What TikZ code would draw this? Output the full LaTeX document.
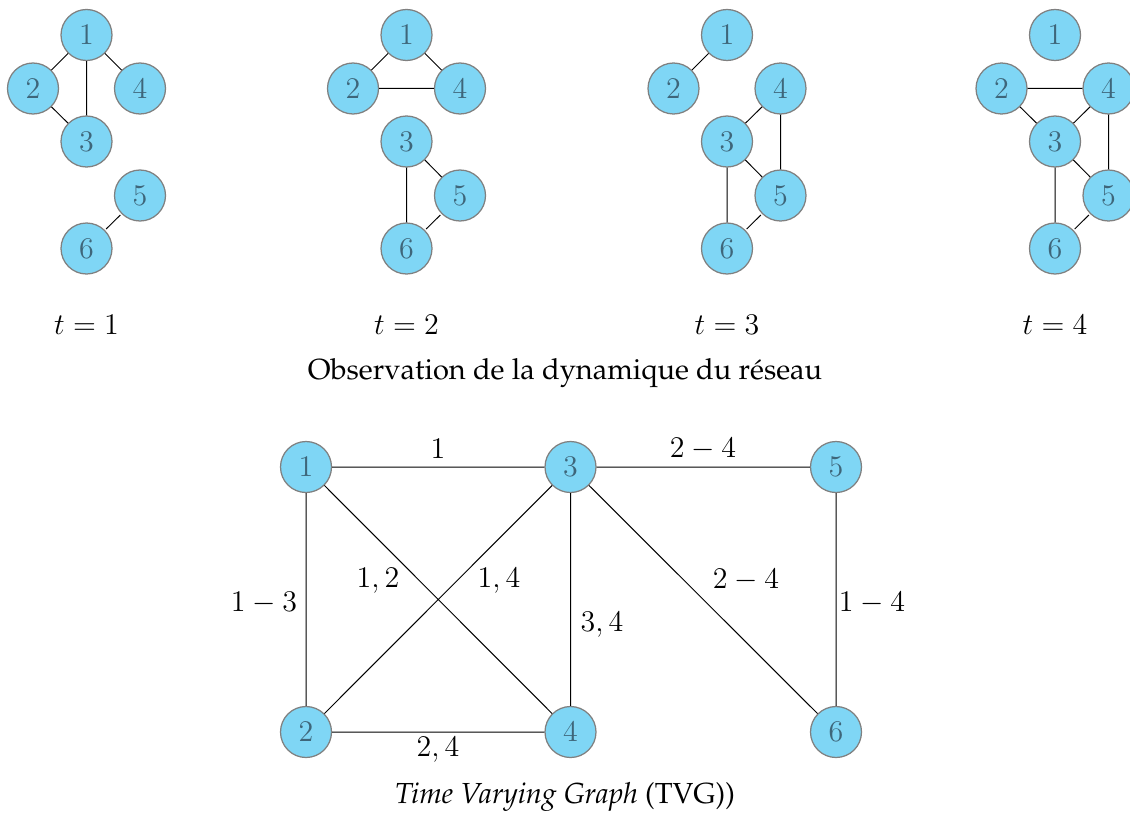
\documentclass[tikz,border=0pt]{standalone}
\usepackage[T1]{fontenc}
\renewcommand{\rmdefault}{ppl}
\definecolor{nodefill}{RGB}{127,214,245}
\definecolor{nodetext}{RGB}{62,102,122}
\definecolor{nodeline}{RGB}{128,128,128}
\begin{document}
\begin{tikzpicture}[x=0.4pt,y=-0.4pt,
  vtx/.style={circle,fill=nodefill,draw=nodeline,line width=0.5pt,minimum size=20.4pt,inner sep=0pt,text=nodetext,font=\fontsize{11.6}{14}\selectfont},
  lbl/.style={font=\fontsize{11.6}{14}\selectfont,inner sep=0pt},
  lnk/.style={line width=0.4pt,black},
  slnk/.style={lnk,shorten >=0.6pt,shorten <=0.6pt}]
\useasboundingbox (0,0) rectangle (1130,819);
% top graphs
\foreach \g/\X/\t in {a/86.5/1,b/406.5/2,c/727/3,d/1055/4}{
  \node[vtx] (\g1) at (\X,35) {$1$};
  \node[vtx] (\g2) at (\X-53.5,88.5) {$2$};
  \node[vtx] (\g4) at (\X+53.5,88.5) {$4$};
  \node[vtx] (\g3) at (\X,141.5) {$3$};
  \node[vtx] (\g5) at (\X+53.5,195.5) {$5$};
  \node[vtx] (\g6) at (\X,248.5) {$6$};
  \node[lbl] (t\g) at (\X,325) {$t=\t$};
}
\draw[slnk] (a1)--(a2) (a1)--(a3) (a1)--(a4) (a2)--(a3) (a5)--(a6);
\draw[slnk] (b1)--(b2) (b1)--(b4) (b2)--(b4) (b3)--(b5) (b3)--(b6) (b5)--(b6);
\draw[slnk] (c1)--(c2) (c3)--(c4) (c4)--(c5) (c3)--(c5) (c3)--(c6) (c5)--(c6);
\draw[slnk] (d2)--(d4) (d2)--(d3) (d3)--(d4) (d4)--(d5) (d3)--(d5) (d3)--(d6) (d5)--(d6);
\node[lbl] (cap1) at (565,373) {Observation de la dynamique du r\'eseau};
% TVG
\node[vtx] (v1) at (306,467) {$1$};
\node[vtx] (v3) at (570.5,467) {$3$};
\node[vtx] (v5) at (836,467) {$5$};
\node[vtx] (v2) at (306,732) {$2$};
\node[vtx] (v4) at (570.5,732) {$4$};
\node[vtx] (v6) at (836,732) {$6$};
\draw[lnk] (v1)--(v3) (v3)--(v5) (v1)--(v2) (v1)--(v4) (v2)--(v3) (v3)--(v4) (v3)--(v6) (v5)--(v6) (v2)--(v4);
\node[lbl] (e13) at (438,449) {$1$};
\node[lbl] (e35) at (703,449) {$2-4$};
\node[lbl] (e12) at (264,603) {$1-3$};
\node[lbl] (e14) at (378,581) {$1,2$};
\node[lbl] (e23) at (499,581) {$1,4$};
\node[lbl] (e34) at (602,625) {$3,4$};
\node[lbl] (e36) at (746,580) {$2-4$};
\node[lbl] (e56) at (872,603) {$1-4$};
\node[lbl] (e24) at (438,750) {$2,4$};
\node[lbl] (cap2) at (565,797) {\textit{Time Varying Graph} (TVG))};
\end{tikzpicture}
\end{document}
